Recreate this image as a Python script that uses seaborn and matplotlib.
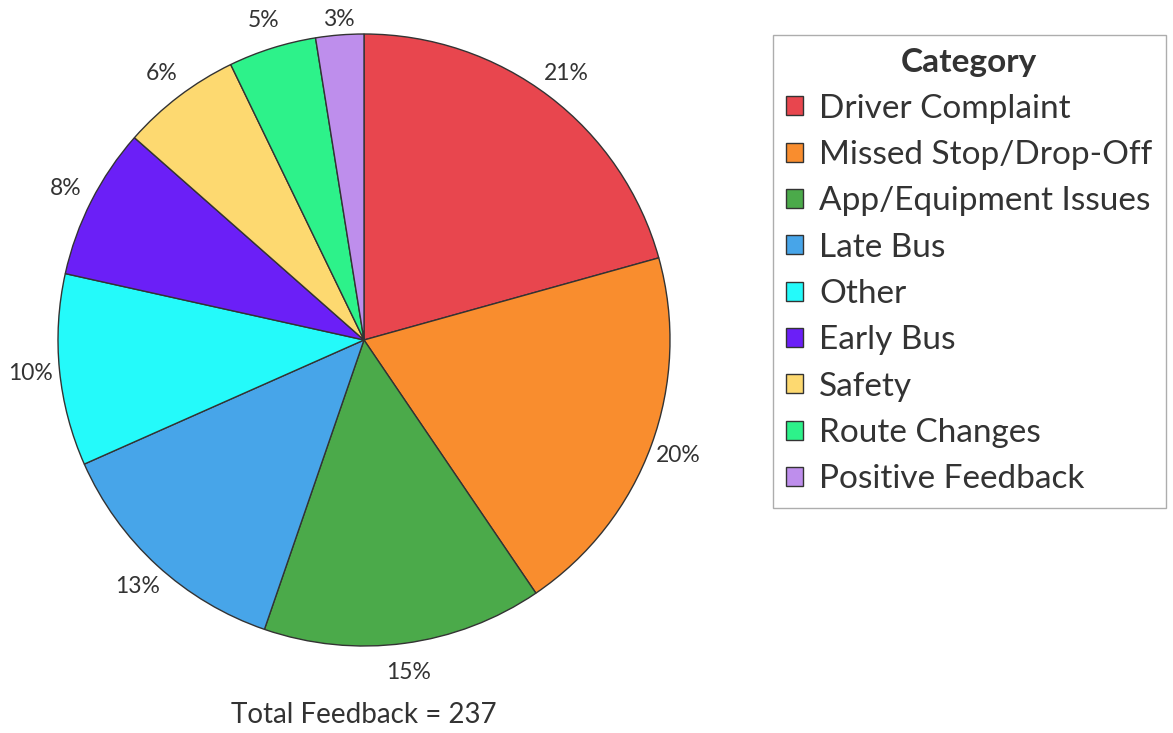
import matplotlib
matplotlib.use("Agg")
import matplotlib.pyplot as plt
import seaborn as sns

# Feedback counts per category (total 237)
categories = ["Driver Complaint", "Missed Stop/Drop-Off", "App/Equipment Issues",
              "Late Bus", "Other", "Early Bus", "Safety", "Route Changes",
              "Positive Feedback"]
counts = [49, 47, 35, 31, 24, 19, 15, 11, 6]
slice_colors = ["#E8464E", "#F98D2E", "#4BAA4A", "#47A5E9", "#24FAFA",
                "#6B1FF7", "#FDD970", "#2DF28A", "#BE8EEC"]

sns.set_theme(style="white")
plt.rcParams['font.family'] = ['Lato', 'DejaVu Sans']
palette = sns.color_palette(slice_colors)

W, H = 1173, 733
fig = plt.figure(figsize=(W / 100, H / 100), dpi=100)
cx, cy, r = 364, 340, 306
ax = fig.add_axes([(cx - r) / W, 1 - (cy + r) / H, 2 * r / W, 2 * r / H])

wedges, texts, autotexts = ax.pie(
    counts, colors=palette, startangle=90, counterclock=False,
    autopct='%1.0f%%', pctdistance=1.095, radius=1,
    wedgeprops=dict(edgecolor='#333333', linewidth=1),
    textprops=dict(color='#333333', fontsize=16.5))
# the small top slice label sits a little closer to the rim
x, y = autotexts[-1].get_position()
autotexts[-1].set_position((x * 1.05 / 1.095, y * 1.05 / 1.095))
ax.set_xlim(-1, 1)
ax.set_ylim(-1, 1)
ax.set_aspect('equal')

total = sum(counts)
fig.text(cx / W, 1 - 715 / H, f"Total Feedback = {total}", ha='center', va='center',
         fontsize=20, color='#333333')

leg = fig.legend(wedges, categories, title="Category", loc='upper left',
                 bbox_to_anchor=(773 / W, 1 - 35 / H), borderaxespad=0, frameon=True,
                 fontsize=24, title_fontproperties=dict(size=24, weight='bold'),
                 handlelength=0.5, handleheight=0.5, handletextpad=0.48,
                 labelspacing=0.49, borderpad=0.4,
                 fancybox=False, edgecolor='#999999')
for t in leg.get_texts():
    t.set_color('#333333')
leg.get_title().set_color('#333333')
for h in leg.legend_handles:
    h.set_edgecolor('#333333')

fig.savefig("out.png", dpi=100)
